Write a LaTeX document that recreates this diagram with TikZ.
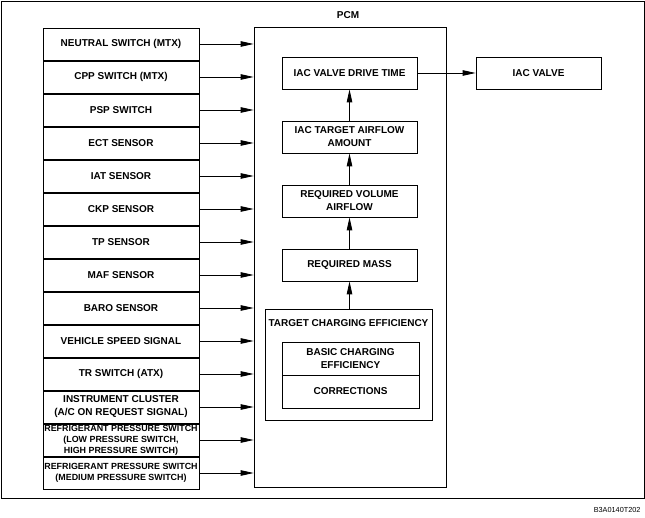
\documentclass[tikz,border=0pt]{standalone}
\usepackage{fontspec}
\setmainfont{Liberation Sans}
\usetikzlibrary{arrows.meta}
\usetikzlibrary{backgrounds}

\tikzset{
	inbox/.style={draw, line width=0.8pt, minimum width=156pt, minimum height=32pt, inner sep=0pt, align=center, font=\fontsize{10}{13}\selectfont\bfseries},
	refbox/.style={inbox, font=\fontsize{8.9}{11}\selectfont\bfseries},
	calcbox/.style={draw, line width=0.8pt, minimum width=135pt, minimum height=32pt, inner sep=0pt, align=center, font=\fontsize{10}{13}\selectfont\bfseries},
	sig/.style={-{Triangle[length=13pt, width=5.5pt]}, line width=0.8pt}
}

\begin{document}
\begin{tikzpicture}[x=1pt, y=-1pt, background rectangle/.style={fill=white}, show background rectangle, inner frame sep=0pt]

	\useasboundingbox (0,0) rectangle (645,518);

	%outer frame
	\draw[line width=0.8pt] (1,1) rectangle (644,498);
	\node[anchor=east, font=\fontsize{7.3}{8}\selectfont] (code) at (644,510) {B3A0140T202};

	% input boxes
	\node[inbox] (neutral) at (121,44) {NEUTRAL SWITCH (MTX)};
	\node[inbox] (cpp) at (121,77) {CPP SWITCH (MTX)};
	\node[inbox] (psp) at (121,110) {PSP SWITCH};
	\node[inbox] (ect) at (121,143) {ECT SENSOR};
	\node[inbox] (iat) at (121,176) {IAT SENSOR};
	\node[inbox] (ckp) at (121,209) {CKP SENSOR};
	\node[inbox] (tp) at (121,242) {TP SENSOR};
	\node[inbox] (maf) at (121,275) {MAF SENSOR};
	\node[inbox] (baro) at (121,308) {BARO SENSOR};
	\node[inbox] (vss) at (121,341) {VEHICLE SPEED SIGNAL};
	\node[inbox] (tr) at (121,374) {TR SWITCH (ATX)};
	\node[inbox] (cluster) at (121,407) {INSTRUMENT CLUSTER\\(A/C ON REQUEST SIGNAL)};
	\node[refbox] (refhl) at (121,440) {REFRIGERANT PRESSURE SWITCH\\(LOW PRESSURE SWITCH,\\HIGH PRESSURE SWITCH)};
	\node[refbox] (refmed) at (121,473) {REFRIGERANT PRESSURE SWITCH\\(MEDIUM PRESSURE SWITCH)};

	% PCM
	\node[draw, line width=0.8pt, minimum width=192pt, minimum height=460pt] (pcm) at (350,257) {};
	\node[font=\fontsize{10}{12}\selectfont\bfseries] (pcmlabel) at (348,15) {PCM};

	% calculation boxes
	\node[calcbox] (drive) at (349.5,73) {IAC VALVE DRIVE TIME};
	\node[calcbox] (target) at (349.5,137) {IAC TARGET AIRFLOW\\AMOUNT};
	\node[calcbox] (volume) at (349.5,201) {REQUIRED VOLUME\\AIRFLOW};
	\node[calcbox] (mass) at (349.5,265) {REQUIRED MASS};

	% charging efficiency
	\node[draw, line width=0.8pt, minimum width=167pt, minimum height=111pt] (tce) at (348.5,364.5) {};
	\node[font=\fontsize{10}{12}\selectfont\bfseries] (tcelabel) at (348.5,323) {TARGET CHARGING EFFICIENCY};
	\node[calcbox, minimum width=137pt, minimum height=33pt] (basic) at (350.5,358.5) {BASIC CHARGING\\EFFICIENCY};
	\node[calcbox, minimum width=137pt, minimum height=33pt] (corr) at (350.5,391.5) {CORRECTIONS};

	% output
	\node[draw, line width=0.8pt, minimum width=125pt, minimum height=32pt, font=\fontsize{10}{12}\selectfont\bfseries] (valve) at (538.5,73) {IAC VALVE};

	% Arrows
	\draw[sig] (neutral.east) -- (neutral.east -| pcm.west);
	\draw[sig] (cpp.east) -- (cpp.east -| pcm.west);
	\draw[sig] (psp.east) -- (psp.east -| pcm.west);
	\draw[sig] (ect.east) -- (ect.east -| pcm.west);
	\draw[sig] (iat.east) -- (iat.east -| pcm.west);
	\draw[sig] (ckp.east) -- (ckp.east -| pcm.west);
	\draw[sig] (tp.east) -- (tp.east -| pcm.west);
	\draw[sig] (maf.east) -- (maf.east -| pcm.west);
	\draw[sig] (baro.east) -- (baro.east -| pcm.west);
	\draw[sig] (vss.east) -- (vss.east -| pcm.west);
	\draw[sig] (tr.east) -- (tr.east -| pcm.west);
	\draw[sig] (cluster.east) -- (cluster.east -| pcm.west);
	\draw[sig] (refhl.east) -- (refhl.east -| pcm.west);
	\draw[sig] (refmed.east) -- (refmed.east -| pcm.west);

	\draw[sig] (tce.north -| mass.south) -- (mass.south);
	\draw[sig] (mass) -- (volume);
	\draw[sig] (volume) -- (target);
	\draw[sig] (target) -- (drive);
	\draw[sig] (drive) -- (valve);
\end{tikzpicture}
\end{document}
